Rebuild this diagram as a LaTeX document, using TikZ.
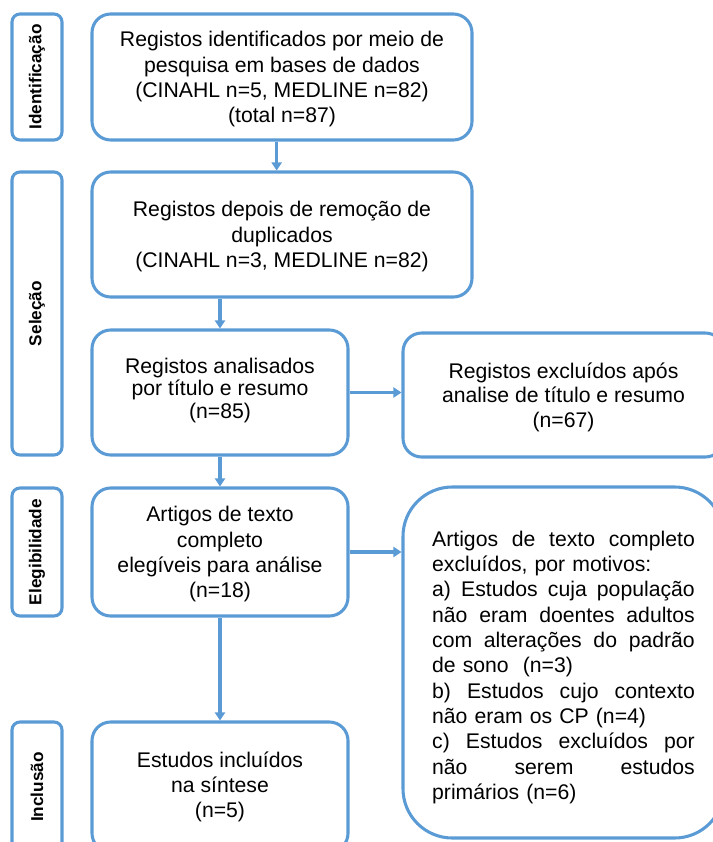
\documentclass[tikz,border=0pt]{standalone}
\usepackage{fontspec}
\setmainfont{Liberation Sans}
\usepackage{tikz}
\usetikzlibrary{arrows.meta,positioning,calc}
\definecolor{flowblue}{HTML}{5B9BD5}
\newcommand{\jline}[1]{{\spaceskip=0pt\xspaceskip=0pt\makebox[197pt][s]{#1}}}

\begin{document}
\begin{tikzpicture}[x=0.75pt, y=-0.75pt,
  box/.style={rectangle, draw=flowblue, line width=2.3pt, rounded corners=14pt, align=center, inner sep=0pt, text depth=-3pt, font=\fontsize{15.9}{19}\selectfont},
  phase/.style={rectangle, draw=flowblue, line width=2.3pt, rounded corners=6pt, minimum height=37.5pt, inner sep=0pt, rotate=90, font=\bfseries\fontsize{12.9}{15}\selectfont},
  arr/.style={-{Triangle[length=6pt, width=7.5pt]}, line width=2.3pt, draw=flowblue}
]
\path[use as bounding box, clip] (0,0) rectangle (713,842);

% Phases on the left
\node[phase, minimum width=94.5pt] (ident) at (37,77) {Identificação};
\node[phase, minimum width=212.25pt] (sel) at (37,313.5) {Seleção};
\node[phase, minimum width=96pt] (eleg) at (37,552) {Elegibilidade};
\node[phase, minimum width=97.5pt] (incl) at (37,787) {Inclusão};

% Main column
\node[box, text depth=-3.4pt, minimum width=285pt, minimum height=94.5pt] (found) at (282,77) {Registos identificados por meio de\\pesquisa em bases de dados\\(CINAHL n=5, MEDLINE n=82)\\(total n=87)};
\node[box, text depth=-1.1pt, minimum width=285pt, minimum height=93.75pt] (dedup) at (282,234.5) {Registos depois de remoção de\\duplicados\\(CINAHL n=3, MEDLINE n=82)};
\node[box, text depth=6.4pt, font=\fontsize{15.9}{16.9}\selectfont, minimum width=192pt, minimum height=93.75pt] (screen) at (220,392.5) {Registos analisados\\por título e resumo\\(n=85)};
\node[box, text depth=-5.2pt, minimum width=192pt, minimum height=96pt] (full) at (220,552) {Artigos de texto\\completo\\elegíveis para análise\\(n=18)};
\node[box, text depth=3.4pt, minimum width=192pt, minimum height=97.5pt] (incl1) at (220,787) {Estudos incluídos\\na síntese\\(n=5)};

% Exclusions on the right
\node[box, text depth=-9pt, font=\fontsize{15.9}{18.3}\selectfont, minimum width=240.75pt, minimum height=93pt] (excl1) at (563.5,395) {Registos excluídos após\\analise de título e resumo\\(n=67)};
\node[box, text depth=186pt, rounded corners=37pt, minimum width=240.75pt, minimum height=263.25pt, text width=197pt, align=left] (excl2) at (563.5,662.5) {\jline{Artigos de texto completo}\\excluídos, por motivos:\\\jline{a) Estudos cuja população}\\\jline{não eram doentes adultos}\\\jline{com alterações do padrão}\\de sono~ (n=3)\\\jline{b) Estudos cujo contexto}\\não eram os CP (n=4)\\\jline{c) Estudos excluídos por}\\\jline{não serem estudos}\\primários (n=6)};

\draw[arr] ([xshift=-4pt]found.south) -- ([xshift=-4pt]found.south |- dedup.north);
\draw[arr] (screen.north |- dedup.south) -- (screen.north);
\draw[arr] (screen) -- (full);
\draw[arr] (full) -- (incl1);
\draw[arr] (screen.east) -- (screen.east -| excl1.west);
\draw[arr] (full.east) -- (full.east -| excl2.west);

\end{tikzpicture}
\end{document}
